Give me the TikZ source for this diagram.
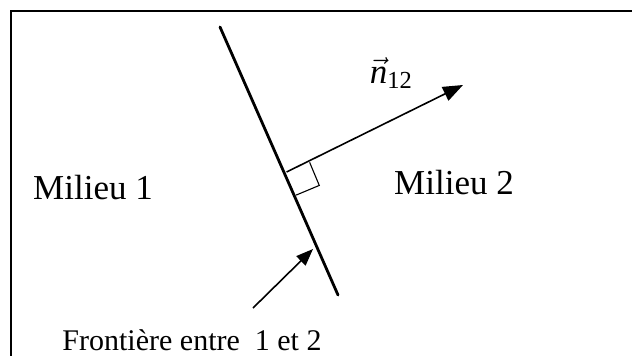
\RequirePackage{fix-cm}
\documentclass[tikz,border=0pt]{standalone}
\usepackage{amsmath}
\usepackage{fontspec}
\setmainfont{Liberation Serif}
\usetikzlibrary{calc,arrows.meta}
\begin{document}
\begin{tikzpicture}[x=1pt,y=-1pt,
  frameline/.style={line width=2pt,draw=black},
  interface/.style={line width=2.8pt,line cap=round},
  normalvec/.style={line width=1.6pt,-{Triangle[length=20pt,width=15pt]}},
  pointer/.style={line width=1.6pt,-{Triangle[length=17pt,width=13pt]}},
  rightangle/.style={line width=1.1pt},
  biglabel/.style={inner sep=0pt,font=\fontsize{35}{40}\selectfont},
  smalllabel/.style={inner sep=0pt,font=\fontsize{30}{36}\selectfont}]
\useasboundingbox (0,0) rectangle (632,356);
\fill[white] (0,0) rectangle (632,356);
\draw[frameline] (11,357) -- (11,11) -- (633,11);
% interface
\coordinate (b1) at (220,27);
\coordinate (b2) at (338,295);
\draw[interface] (b1) -- (b2);
% normal vector
\coordinate (tip) at (463,85);
\coordinate (f0) at ($(b1)!0.5448!(b2)$);
\coordinate (f) at ($(f0)!2.5pt!90:(b2)$);
\draw[normalvec] (f) -- (tip);
% right angle mark
\coordinate (sa) at ($(f)!25pt!90:(b2)$);
\coordinate (sb) at ($(f)!25pt!(b2)$);
\coordinate (sc) at ($(sa)+(sb)-(f)$);
\draw[rightangle] (sa) -- (sc) -- (sb);
% labels
\node[biglabel] (nlab) at (391,73) {$\vec{\textit{n}}_{\text{12}}$};
\node[biglabel] (m1) at (93,188) {Milieu 1};
\node[biglabel] (m2) at (454,183) {Milieu 2};
\node[smalllabel] (fr) at (192,340) {Frontière entre\ \ 1 et 2};
% pointer arrow
\coordinate (ps) at (253,308);
\coordinate (pt) at (313,249);
\draw[pointer] (ps) -- (pt);
\end{tikzpicture}
\end{document}
